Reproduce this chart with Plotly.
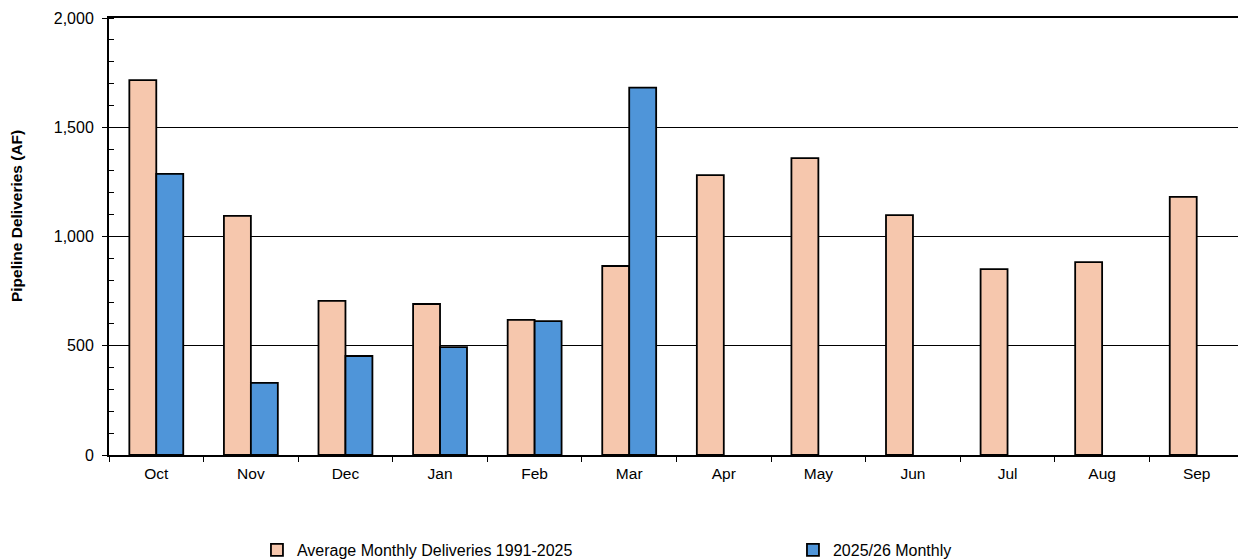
import plotly.graph_objects as go

months = ["Oct", "Nov", "Dec", "Jan", "Feb", "Mar", "Apr", "May", "Jun", "Jul", "Aug", "Sep"]
avg_1991_2025 = [1716, 1094, 705, 691, 618, 865, 1281, 1359, 1098, 851, 883, 1181]
monthly_2025_26 = [1287, 330, 453, 494, 613, 1681, None, None, None, None, None, None]

fig = go.Figure()
fig.add_trace(go.Bar(
    x=months, y=avg_1991_2025, name="Average Monthly Deliveries 1991-2025",
    marker=dict(color="#F6C7AD", line=dict(color="black", width=1.8)),
))
fig.add_trace(go.Bar(
    x=months, y=monthly_2025_26, name="2025/26 Monthly",
    marker=dict(color="#4F95D9", line=dict(color="black", width=1.8)),
))

font = "Liberation Sans, Arial, sans-serif"
fig.update_layout(
    width=1238, height=552,
    margin=dict(l=101, r=2, t=10, b=105, autoexpand=False),
    barmode="group", bargap=0.43, bargroupgap=0,
    plot_bgcolor="white", paper_bgcolor="white",
    font=dict(family=font, size=16, color="black"),
    showlegend=True,
    legend=dict(
        orientation="h", xref="container", yref="container",
        x=0.2011, xanchor="left", y=0.018, yanchor="middle",
        entrywidth=491, entrywidthmode="pixels",
        itemwidth=30, font=dict(size=16, family=font),
        traceorder="normal",
    ),
    xaxis=dict(
        showline=True, linecolor="black", linewidth=2, mirror=True,
        ticks="outside", ticklen=5, tickcolor="black", tickwidth=1,
        tickson="boundaries", showgrid=False, automargin=False,
        ticklabelstandoff=3,
        tickfont=dict(size=15.5),
    ),
    yaxis=dict(
        range=[0, 2000], dtick=500, tickformat=",",
        showline=True, linecolor="black", linewidth=2, mirror=True,
        ticks="outside", ticklen=5, tickcolor="black",
        showgrid=True, gridcolor="black", gridwidth=1,
        zeroline=False, automargin=False, ticklabelstandoff=5,
        minor=dict(ticks="inside", ticklen=5, dtick=100, tickcolor="black", showgrid=False),
        tickfont=dict(size=16),
    ),
    annotations=[dict(
        text="<b>Pipeline Deliveries (AF)</b>", textangle=-90,
        xref="paper", yref="paper", x=-0.081, y=0.547,
        xanchor="center", yanchor="middle", showarrow=False,
        font=dict(size=15.5, family=font, color="black"),
    )],
)

fig.write_html("out.html")
